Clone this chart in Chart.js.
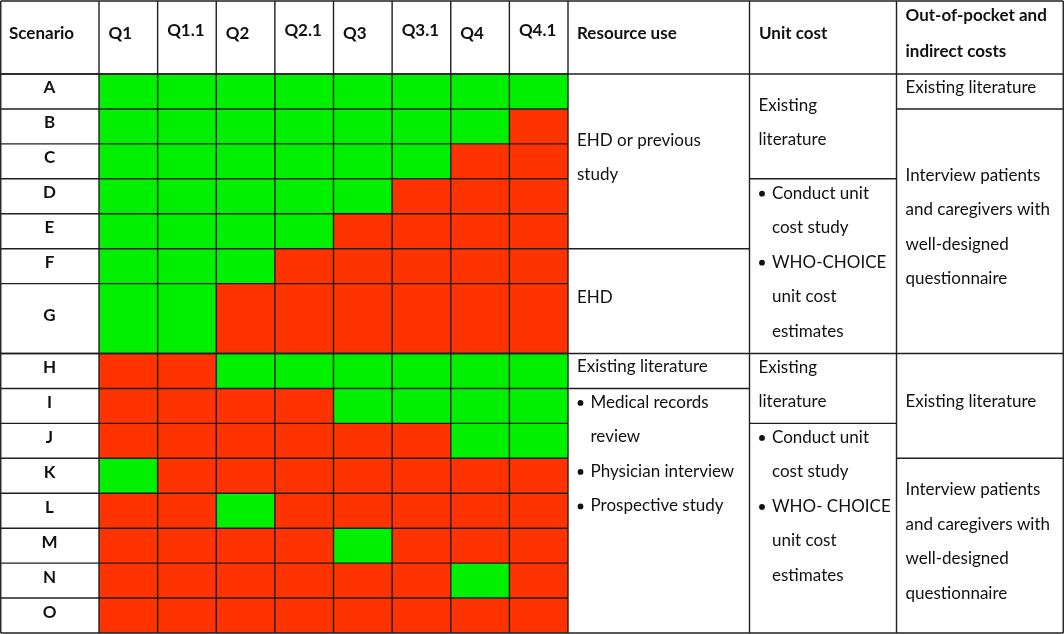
<!DOCTYPE html>
<html>
<head>
<meta charset="utf-8">
<script src="https://cdn.jsdelivr.net/npm/chart.js@4.4.1/dist/chart.umd.min.js"></script>
<style>
html,body{margin:0;padding:0;background:#fff;}
#wrap{width:1064px;height:634px;}
</style>
</head>
<body>
<div id="wrap"><canvas id="c" width="1064" height="634"></canvas></div>
<script>
// ---------- DATA ----------
const scenarios = ['A','B','C','D','E','F','G','H','I','J','K','L','M','N','O'];
const questions = ['Q1','Q1.1','Q2','Q2.1','Q3','Q3.1','Q4','Q4.1'];
// row heights in row units (G spans two)
const rowSpans = [1,1,1,1,1,1,2,1,1,1,1,1,1,1,1];
// 1 = green (yes), 0 = red (no); one array per scenario, Q1..Q4.1
const answerRows = [
  [1,1,1,1,1,1,1,1], // A
  [1,1,1,1,1,1,1,0], // B
  [1,1,1,1,1,1,0,0], // C
  [1,1,1,1,1,0,0,0], // D
  [1,1,1,1,0,0,0,0], // E
  [1,1,1,0,0,0,0,0], // F
  [1,1,0,0,0,0,0,0], // G
  [0,0,1,1,1,1,1,1], // H
  [0,0,0,0,1,1,1,1], // I
  [0,0,0,0,0,0,1,1], // J
  [1,0,0,0,0,0,0,0], // K
  [0,0,1,0,0,0,0,0], // L
  [0,0,0,0,1,0,0,0], // M
  [0,0,0,0,0,0,1,0], // N
  [0,0,0,0,0,0,0,0]  // O
];
const headerScenario = 'Scenario';
const headerResource = ['Resource use'];
const headerUnit = ['Unit cost'];
const headerOop = ['Out-of-pocket and','indirect costs'];
// text blocks: [first row index, row-unit span, lines]; a leading '•' marks a bullet
const resourceBlocks = [
  [0, 5, ['EHD or previous','study']],
  [5, 3, ['EHD']],
  [8, 1, ['Existing literature']],
  [9, 7, ['• Medical records','review','• Physician interview','• Prospective study']]
];
const unitBlocks = [
  [0, 3, ['Existing','literature']],
  [3, 5, ['• Conduct unit','cost study','• WHO-CHOICE','unit cost','estimates']],
  [8, 2, ['Existing','literature']],
  [10, 6, ['• Conduct unit','cost study','• WHO- CHOICE','unit cost','estimates']]
];
const oopBlocks = [
  [0, 1, ['Existing literature']],
  [1, 7, ['Interview patients','and caregivers with','well-designed','questionnaire']],
  [8, 3, ['Existing literature']],
  [11, 5, ['Interview patients','and caregivers with','well-designed','questionnaire']]
];

// ---------- STYLE / LAYOUT ----------
const GREEN = '#00f000';
const RED = '#ff3300';
const LINE = '#1f1f1f';
const FONT = 'Lato, "Open Sans", sans-serif';
const FS = 17;
const LH = 34.5;
const W_RES = 181.5, W_UNIT = 147;
const topAligned = { res: [3], unit: [3] };

const rowStart = [];
rowSpans.reduce((acc, s, i) => { rowStart[i] = acc; return acc + s; }, 0);
const totalRows = rowSpans.reduce((a, b) => a + b, 0);

const tablePlugin = {
  id: 'table',
  afterDraw(chart) {
    const ctx = chart.ctx;
    const xs = chart.scales.x, ys = chart.scales.y;
    const area = chart.chartArea;
    const tableTop = 1, tableBottom = area.bottom, left = 0.75, right = 1063.25;
    const qW = (area.right - area.left) / questions.length;
    const xRes = area.right, xUnit = xRes + W_RES, xOop = xUnit + W_UNIT;
    const py = v => ys.getPixelForValue(v);

    ctx.save();
    ctx.strokeStyle = LINE;
    ctx.lineWidth = 1.4;
    const hl = (y, x0, x1) => { ctx.beginPath(); ctx.moveTo(x0, y); ctx.lineTo(x1, y); ctx.stroke(); };
    const vl = (x, y0, y1) => { ctx.beginPath(); ctx.moveTo(x, y0); ctx.lineTo(x, y1); ctx.stroke(); };

    // horizontal lines
    hl(tableTop, left, right);
    hl(py(0), left, right);
    hl(tableBottom, left, right);
    rowStart.forEach(r => hl(py(r), left, xRes));
    hl(py(8), left, right);
    [5, 9].forEach(r => hl(py(r), xRes, xUnit));
    [3, 10].forEach(r => hl(py(r), xUnit, xOop));
    [1, 11].forEach(r => hl(py(r), xOop, right));
    // vertical lines
    const vx = [left, area.left];
    questions.forEach((q, j) => vx.push(xs.getPixelForValue(j) + qW / 2));
    vx.push(xUnit, xOop, right);
    vx.forEach(x => vl(x, tableTop, tableBottom));

    ctx.fillStyle = '#111';
    ctx.textBaseline = 'middle';
    // header
    const hc = (tableTop + py(0)) / 2 - 4;
    ctx.font = `bold ${FS}px ${FONT}`;
    ctx.textAlign = 'left';
    ctx.fillText(headerScenario, 9, hc);
    questions.forEach((q, j) => {
      const x0 = xs.getPixelForValue(j) - qW / 2;
      ctx.fillText(q, x0 + 9.5, q.includes('.') ? hc - 3 : hc);
    });
    ctx.fillText(headerResource[0], xRes + 9, hc);
    ctx.fillText(headerUnit[0], xUnit + 9.5, hc);
    headerOop.forEach((t, i) => ctx.fillText(t, xOop + 9, hc - 18 + i * 36));

    // scenario letters
    ctx.textAlign = 'center';
    scenarios.forEach((s, i) => {
      const c = (py(rowStart[i]) + py(rowStart[i] + rowSpans[i])) / 2 - 3.5;
      ctx.fillText(s, area.left / 2, c);
    });

    // text columns
    ctx.font = `${FS}px ${FONT}`;
    ctx.textAlign = 'left';
    const drawBlocks = (blocks, x0, topIdx) => {
      blocks.forEach((b, bi) => {
        const [r0, span, lines] = b;
        const t = py(r0), bt = py(r0 + span);
        let first;
        if (topIdx.includes(bi)) first = t + 14;
        else first = (t + bt) / 2 - (lines.length - 1) * LH / 2 - 4;
        const hasBullets = lines.some(l => l.startsWith('•'));
        lines.forEach((l, i) => {
          const y = first + i * LH;
          if (hasBullets) {
            if (l.startsWith('•')) {
              ctx.beginPath();
              ctx.arc(x0 + 12.5, y + 0.5, 2.9, 0, Math.PI * 2);
              ctx.fill();
              l = l.slice(2);
            }
            ctx.fillText(l, x0 + 22.5, y);
          } else {
            ctx.fillText(l, x0 + 9, y);
          }
        });
      });
    };
    drawBlocks(resourceBlocks, xRes, topAligned.res);
    drawBlocks(unitBlocks, xUnit, topAligned.unit);
    drawBlocks(oopBlocks, xOop, []);
    ctx.restore();
  }
};

new Chart(document.getElementById('c'), {
  type: 'bar',
  data: {
    labels: questions,
    datasets: scenarios.map((s, i) => ({
      label: s,
      data: questions.map(() => [rowStart[i], rowStart[i] + rowSpans[i]]),
      backgroundColor: answerRows[i].map(v => v ? GREEN : RED),
      borderWidth: 0,
      grouped: false,
      categoryPercentage: 1,
      barPercentage: 1
    }))
  },
  options: {
    responsive: false,
    animation: false,
    events: [],
    layout: { padding: { left: 99, right: 496, top: 74, bottom: 1 } },
    plugins: { legend: { display: false }, tooltip: { enabled: false } },
    scales: {
      x: { display: false, offset: true },
      y: { display: false, reverse: true, min: 0, max: totalRows }
    }
  },
  plugins: [tablePlugin]
});
</script>
</body>
</html>
